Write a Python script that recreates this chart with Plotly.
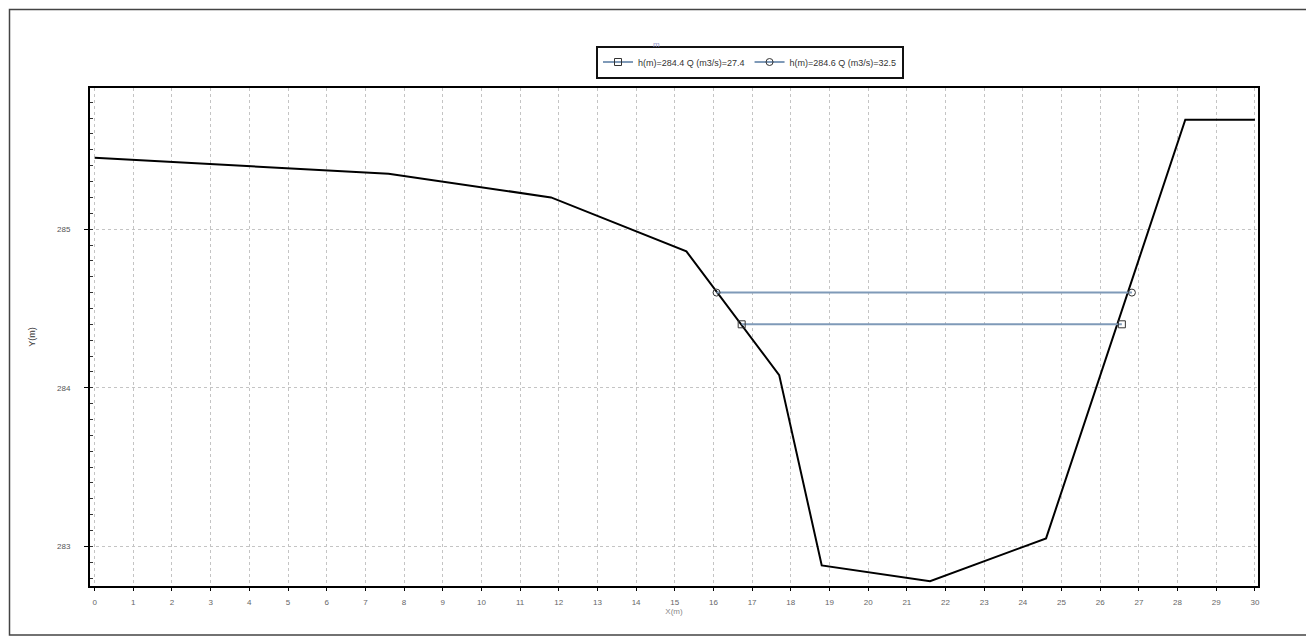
import plotly.graph_objects as go

# Ground profile (cross-section)
ground_x = [0, 7.6, 11.8, 15.3, 17.7, 18.8, 21.6, 24.6, 28.2, 30.0]
ground_y = [285.45, 285.35, 285.20, 284.86, 284.08, 282.88, 282.78, 283.05, 285.69, 285.69]

# Water surface lines
wl1_x = [16.73, 26.56]
wl1_y = [284.4, 284.4]
wl1_name = "h(m)=284.4 Q (m3/s)=27.4"

wl2_x = [16.08, 26.82]
wl2_y = [284.6, 284.6]
wl2_name = "h(m)=284.6 Q (m3/s)=32.5"

x_ticks = list(range(0, 31))
y_ticks = [283, 284, 285]

fig = go.Figure()

fig.add_trace(go.Scatter(
    x=ground_x, y=ground_y, mode="lines",
    line=dict(color="black", width=2), showlegend=False, hoverinfo="skip"))

fig.add_trace(go.Scatter(
    x=wl1_x, y=wl1_y, mode="lines+markers", name=wl1_name,
    line=dict(color="#7f9ab8", width=2),
    marker=dict(symbol="square-open", size=7, color="#333333", line=dict(width=1))))

fig.add_trace(go.Scatter(
    x=wl2_x, y=wl2_y, mode="lines+markers", name=wl2_name,
    line=dict(color="#7f9ab8", width=2),
    marker=dict(symbol="circle-open", size=7, color="#333333", line=dict(width=1))))

OFF = 8  # default page body margin
W, H = 1314 - OFF, 644 - OFF
L, R, T, B = 90 - OFF, 1258 - OFF, 88 - OFF, 586 - OFF
pw, ph = R - L, B - T

def px(x):
    return (x - OFF - L) / pw

def py(y):
    return (B - (y - OFF)) / ph

fig.update_layout(
    width=W, height=H,
    margin=dict(l=L, r=W - R, t=T, b=H - B),
    paper_bgcolor="white", plot_bgcolor="white",
    font=dict(family="Liberation Sans, Arial, sans-serif", size=9, color="#555555"),
    showlegend=True,
    legend=dict(
        orientation="h", x=px(750), y=py(62), xanchor="center", yanchor="middle",
        bordercolor="#111111", borderwidth=2, bgcolor="white",
        font=dict(size=9, color="#333333"),
        tracegroupgap=0,
    ),
    xaxis=dict(
        range=[-0.12, 30.08], tickmode="array", tickvals=x_ticks,
        ticktext=[str(v) for v in x_ticks],
        showgrid=True, gridcolor="#c4c4c4", griddash="dot", gridwidth=1,
        showline=True, linecolor="black", linewidth=2, mirror=True,
        ticks="outside", ticklen=3, tickcolor="black",
        zeroline=False, tickfont=dict(size=8, color="#666666"),
        ticklabelstandoff=4,
        title=dict(text="X(m)", font=dict(size=8, color="#888888"), standoff=2),
    ),
    yaxis=dict(
        range=[282.75, 285.89], tickmode="array", tickvals=y_ticks,
        ticktext=[str(v) for v in y_ticks],
        showgrid=True, gridcolor="#c4c4c4", griddash="dot", gridwidth=1,
        showline=True, linecolor="black", linewidth=2, mirror=True,
        ticks="outside", ticklen=4, tickcolor="black",
        zeroline=False, tickfont=dict(size=8, color="#555555"),
        ticklabelstandoff=12,
        title=dict(text="Y(m)", font=dict(size=9, color="#333333"), standoff=20),
        minor=dict(ticks="inside", ticklen=3, tickcolor="#333333", dtick=0.1, showgrid=False),
    ),
)

# Outer frame of the picture
fig.add_shape(type="rect", xref="paper", yref="paper",
              x0=px(9.5), x1=px(1308), y0=py(635), y1=py(9.5),
              line=dict(color="#444444", width=1.5), fillcolor="rgba(0,0,0,0)", layer="below")

# Small title mark above legend
fig.add_annotation(xref="paper", yref="paper", x=px(656), y=py(38), text="m",
                   showarrow=False, font=dict(size=8, color="#9999cc"))

fig.write_html("out.html")
